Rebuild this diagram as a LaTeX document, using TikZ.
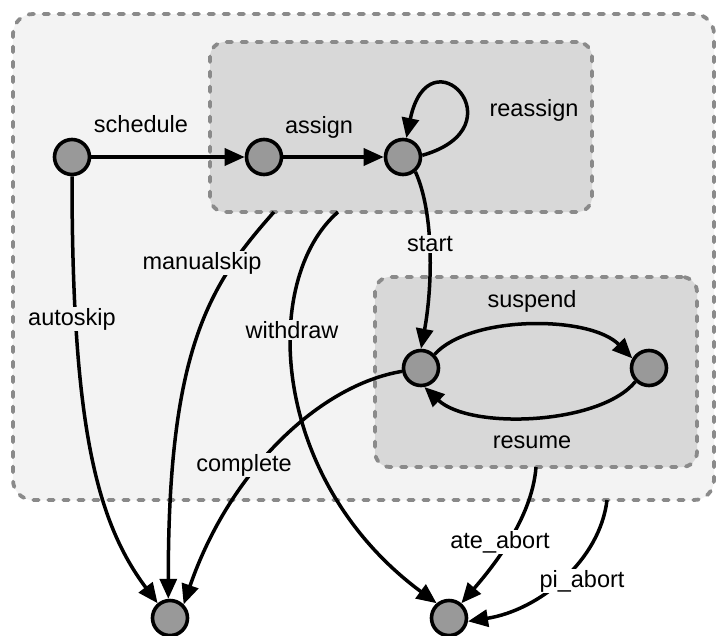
\documentclass[tikz,border=0pt]{standalone}
\usepackage{fontspec}
\setmainfont{Liberation Sans}
\usetikzlibrary{arrows.meta}
\definecolor{outerbg}{HTML}{F3F3F3}
\definecolor{innerbg}{HTML}{D8D8D8}
\definecolor{dashgray}{HTML}{8A8A8A}
\definecolor{statefill}{HTML}{999999}
\begin{document}
\begin{tikzpicture}[x=1pt,y=-1pt,
  every node/.style={font=\fontsize{23.5}{28}\selectfont},
  groupbox/.style={draw=dashgray, line width=3.8pt, line cap=round, dash pattern=on 5.5pt off 9.5pt, inner sep=0pt, outer sep=0pt},
  state/.style={circle, draw=black, line width=3.6pt, fill=statefill, minimum size=35pt, inner sep=0pt},
  edge/.style={line width=3.5pt, -{Triangle[length=20pt,width=17pt]}},
  lbl/.style={inner sep=1.5pt},
]
\useasboundingbox (0,0) rectangle (717,635);
% groups
\node[groupbox, fill=outerbg, rounded corners=20pt, minimum width=701pt, minimum height=486pt] (outer) at (363.5,257) {};
\node[groupbox, fill=innerbg, rounded corners=15pt, minimum width=382pt, minimum height=170pt] (boxA) at (401,127) {};
\node[groupbox, fill=innerbg, rounded corners=15pt, minimum width=322pt, minimum height=190pt] (boxB) at (536,372) {};
% states
\node[state] (n1) at (72,157) {};
\node[state] (n2) at (264,157) {};
\node[state] (n3) at (403,157) {};
\node[state] (n4) at (421,368) {};
\node[state] (n5) at (649,368) {};
\node[state] (n6) at (170,618) {};
\node[state] (n7) at (449,618) {};
% edges
\draw[edge] (n1) -- (n2);
\draw[edge] (n2) -- (n3);
\draw[edge] (n3.5) .. controls (522,127) and (429,29) .. (n3.80);
\draw[edge] (n3.-50) .. controls (435,215) and (432,290) .. (n4.north);
\draw[edge] (n4.45) .. controls (470,315) and (590,315) .. (n5.150);
\draw[edge] (n5.-135) .. controls (600,425) and (470,430) .. (n4.-80);
\draw[edge] (n1.south) .. controls (72,420) and (95,520) .. (n6.130);
\draw[edge] ([xshift=-127pt]boxA.south) .. controls (210,284) and (168,348) .. (n6.95);
\draw[edge] ([xshift=-63pt]boxA.south) .. controls (260,280) and (270,480) .. (n7.130);
\draw[edge] (n4.190) .. controls (320,385) and (230,470) .. (n6.45);
\draw[edge] (boxB.south) .. controls (532,520) and (490,570) .. (n7.50);
\draw[edge] ([xshift=243.5pt]outer.south) .. controls (600,560) and (540,610) .. (n7.-10);
% labels
\node[lbl] (lschedule) at (141,124) {schedule};
\node[lbl] (lassign) at (319,127) {assign};
\node[lbl] (lreassign) at (534,110) {reassign};
\node[lbl, fill=outerbg] (lstart) at (430,244) {start};
\node[lbl, fill=outerbg] (lmanual) at (202,263) {manualskip};
\node[lbl, fill=outerbg] (lauto) at (72,319) {autoskip};
\node[lbl, fill=outerbg] (lwithdraw) at (292,330) {withdraw};
\node[lbl] (lsuspend) at (532,301) {suspend};
\node[lbl] (lresume) at (532,442) {resume};
\node[lbl, fill=outerbg] (lcomplete) at (244,465) {complete};
\node[lbl, fill=white] (late) at (500,542) {ate\_abort};
\node[lbl, fill=white] (lpi) at (582,581) {pi\_abort};
\end{tikzpicture}
\end{document}
